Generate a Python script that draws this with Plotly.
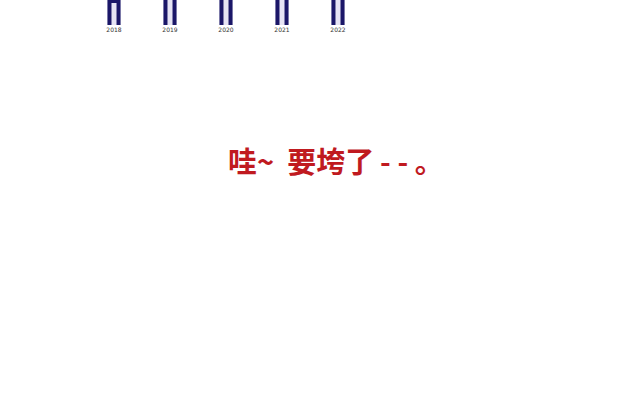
import plotly.graph_objects as go

years = ["2018", "2019", "2020", "2021", "2022"]
outer_values = [20, 20, 20, 20, 20]
inner_values = [8.8, 20, 20, 20, 20]
message = "哇~  要垮了\u2009- - 。"

fig = go.Figure()
fig.add_trace(go.Bar(
    x=years, y=outer_values, width=0.235,
    marker=dict(color="#1b1768", line=dict(width=0)),
    showlegend=False,
))
fig.add_trace(go.Bar(
    x=years, y=inner_values, width=0.09,
    marker=dict(color="#e6e4f4", line=dict(width=0)),
    showlegend=False,
))
fig.update_layout(
    barmode="overlay",
    width=640, height=406,
    margin=dict(l=0, r=0, t=0, b=0),
    paper_bgcolor="white", plot_bgcolor="white",
    xaxis=dict(domain=[86/640, 366/640], showgrid=False, showline=False,
               zeroline=False, ticks="", tickfont=dict(size=6, color="#333", family="DejaVu Sans"),
               anchor="y"),
    yaxis=dict(domain=[1 - 25/406, 1], range=[0, 10], showgrid=False,
               showticklabels=False, zeroline=False, showline=False),
    annotations=[dict(
        text="<b>" + message + "</b>", x=226/640, y=1 - 160/406,
        xref="paper", yref="paper", xanchor="left", yanchor="middle", showarrow=False,
        font=dict(size=29, color="#c01a1f", family="Noto Sans CJK SC"),
    )],
)
fig.write_html("out.html", config={"displayModeBar": False},
               post_script="document.body.style.margin='0';")
